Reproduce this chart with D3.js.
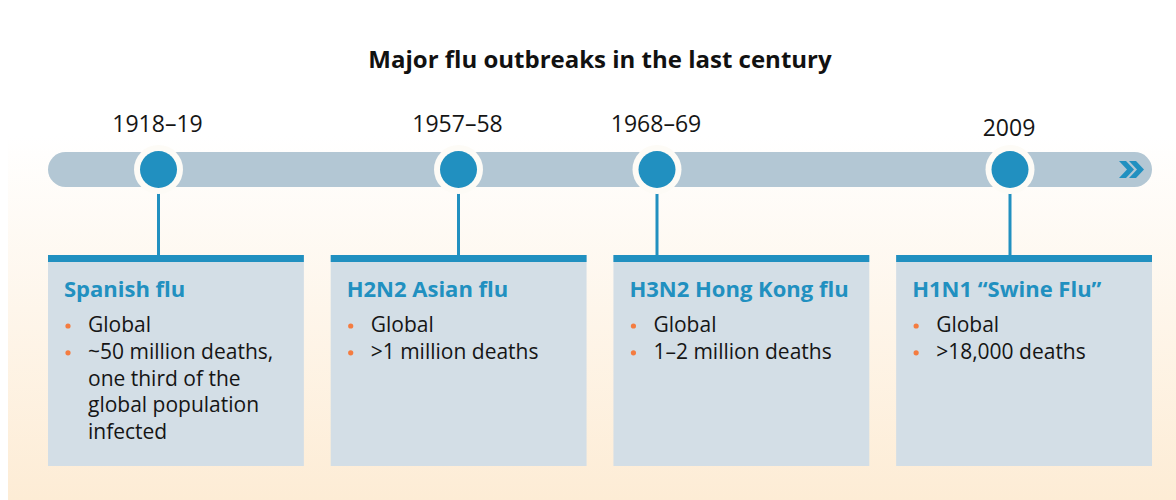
<!DOCTYPE html>
<html>
<head>
<meta charset="utf-8">
<script src="https://cdn.jsdelivr.net/npm/d3@7.9.0/dist/d3.min.js"></script>
<style>
  html, body { margin: 0; padding: 0; background: #fff; }
  svg { display: block; font-family: "Open Sans", Lato, sans-serif; }
</style>
</head>
<body>
<svg id="chart" width="1176" height="500"></svg>
<script>
// --- data ---
const title = "Major flu outbreaks in the last century";
const periods = ["1918–19", "1957–58", "1968–69", "2009"];
const startYears = [1918, 1957, 1968, 2009];
const names = ["Spanish flu", "H2N2 Asian flu", "H3N2 Hong Kong flu", "H1N1 \u201cSwine Flu\u201d"];
const facts = [
  ["Global", "~50 million deaths, one third of the global population infected"],
  ["Global", ">1 million deaths"],
  ["Global", "1–2 million deaths"],
  ["Global", ">18,000 deaths"]
];

const blue = "#2190c0";
const barColor = "#b3c7d4";
const boxColor = "#d3dee6";
const orange = "#f47c40";
const ink = "#151515";

const svg = d3.select("#chart");
const W = 1176, H = 500;

// background gradient
const defs = svg.append("defs");
const grad = defs.append("linearGradient")
  .attr("id", "bg").attr("x1", 0).attr("x2", 0).attr("y1", 0).attr("y2", 1);
grad.append("stop").attr("offset", "0%").attr("stop-color", "#ffffff");
grad.append("stop").attr("offset", "100%").attr("stop-color", "#fdecd5");

svg.append("rect")
  .attr("x", 8).attr("y", 136).attr("width", W - 8).attr("height", H - 136)
  .attr("fill", "url(#bg)");

// title
svg.append("text")
  .attr("x", 600).attr("y", 68)
  .attr("text-anchor", "middle")
  .attr("font-size", 24).attr("font-weight", 700)
  .attr("fill", "#111")
  .text(title);

// timeline bar
const barY = 152, barH = 35, barL = 48, barR = 1152;
svg.append("rect")
  .attr("x", barL).attr("y", barY).attr("width", barR - barL).attr("height", barH)
  .attr("rx", barH / 2).attr("fill", barColor);

// double chevron at the end
const chev = svg.append("g").attr("fill", blue);
[1119, 1129].forEach(x0 => {
  chev.append("path")
    .attr("d", `M${x0},161 L${x0 + 7},161 L${x0 + 15},169.5 L${x0 + 7},178 L${x0},178 L${x0 + 8},169.5 Z`);
});

// scales
const xBox = d3.scaleBand().domain(names).range([48, 1152]).paddingInner(0.095).paddingOuter(0);
// piecewise scale for where each outbreak sits on the timeline bar
const xYear = d3.scaleLinear().domain(startYears).range([158.5, 458.5, 657, 1010]);

const cy = barY + barH / 2;
const boxTop = 255, boxBottom = 466;

const events = names.map((n, i) => ({ name: n, period: periods[i], year: startYears[i], facts: facts[i] }));

const g = svg.selectAll("g.event").data(events).join("g").attr("class", "event");

// stems
g.append("line")
  .attr("x1", d => xYear(d.year)).attr("x2", d => xYear(d.year))
  .attr("y1", cy).attr("y2", boxTop + 2)
  .attr("stroke", blue).attr("stroke-width", 3);

// dots with halo
g.append("circle")
  .attr("cx", d => xYear(d.year)).attr("cy", cy).attr("r", 24.5)
  .attr("fill", "#fdfbf6");
g.append("circle")
  .attr("cx", d => xYear(d.year)).attr("cy", cy).attr("r", 18.5)
  .attr("fill", blue);

// period labels
g.append("text")
  .attr("x", d => xYear(d.year) - 1)
  .attr("y", d => d.year === 2009 ? 136 : 132)
  .attr("text-anchor", "middle")
  .attr("font-size", 23)
  .attr("fill", ink)
  .text(d => d.period);

// boxes
g.append("rect")
  .attr("x", d => xBox(d.name)).attr("y", boxTop)
  .attr("width", xBox.bandwidth()).attr("height", boxBottom - boxTop)
  .attr("fill", boxColor);
g.append("rect")
  .attr("x", d => xBox(d.name)).attr("y", boxTop)
  .attr("width", xBox.bandwidth()).attr("height", 7)
  .attr("fill", blue);

g.append("text")
  .attr("x", d => xBox(d.name) + 16).attr("y", 297)
  .attr("font-size", 22).attr("font-weight", 700)
  .attr("fill", blue)
  .text(d => d.name);

// wrap helper for bullet text
function wrapWords(str, maxW, size) {
  const probe = svg.append("text").attr("font-size", size);
  const words = str.split(" ");
  const lines = [];
  let cur = "";
  words.forEach(w => {
    const t = cur ? cur + " " + w : w;
    probe.text(t);
    if (probe.node().getComputedTextLength() > maxW && cur) {
      lines.push(cur);
      cur = w;
    } else cur = t;
  });
  if (cur) lines.push(cur);
  probe.remove();
  return lines;
}

const lineH = 26.8, textSize = 21;
g.each(function (d) {
  const sel = d3.select(this);
  const x0 = xBox(d.name);
  let y = 332;
  d.facts.forEach(f => {
    sel.append("circle")
      .attr("cx", x0 + 20).attr("cy", y - 6).attr("r", 2.6)
      .attr("fill", orange);
    const lines = wrapWords(f, 205, textSize);
    const t = sel.append("text")
      .attr("font-size", textSize).attr("fill", ink);
    lines.forEach((ln, i) => {
      t.append("tspan").attr("x", x0 + 40).attr("y", y + i * lineH).text(ln);
    });
    y += lines.length * lineH;
  });
});
</script>
</body>
</html>
